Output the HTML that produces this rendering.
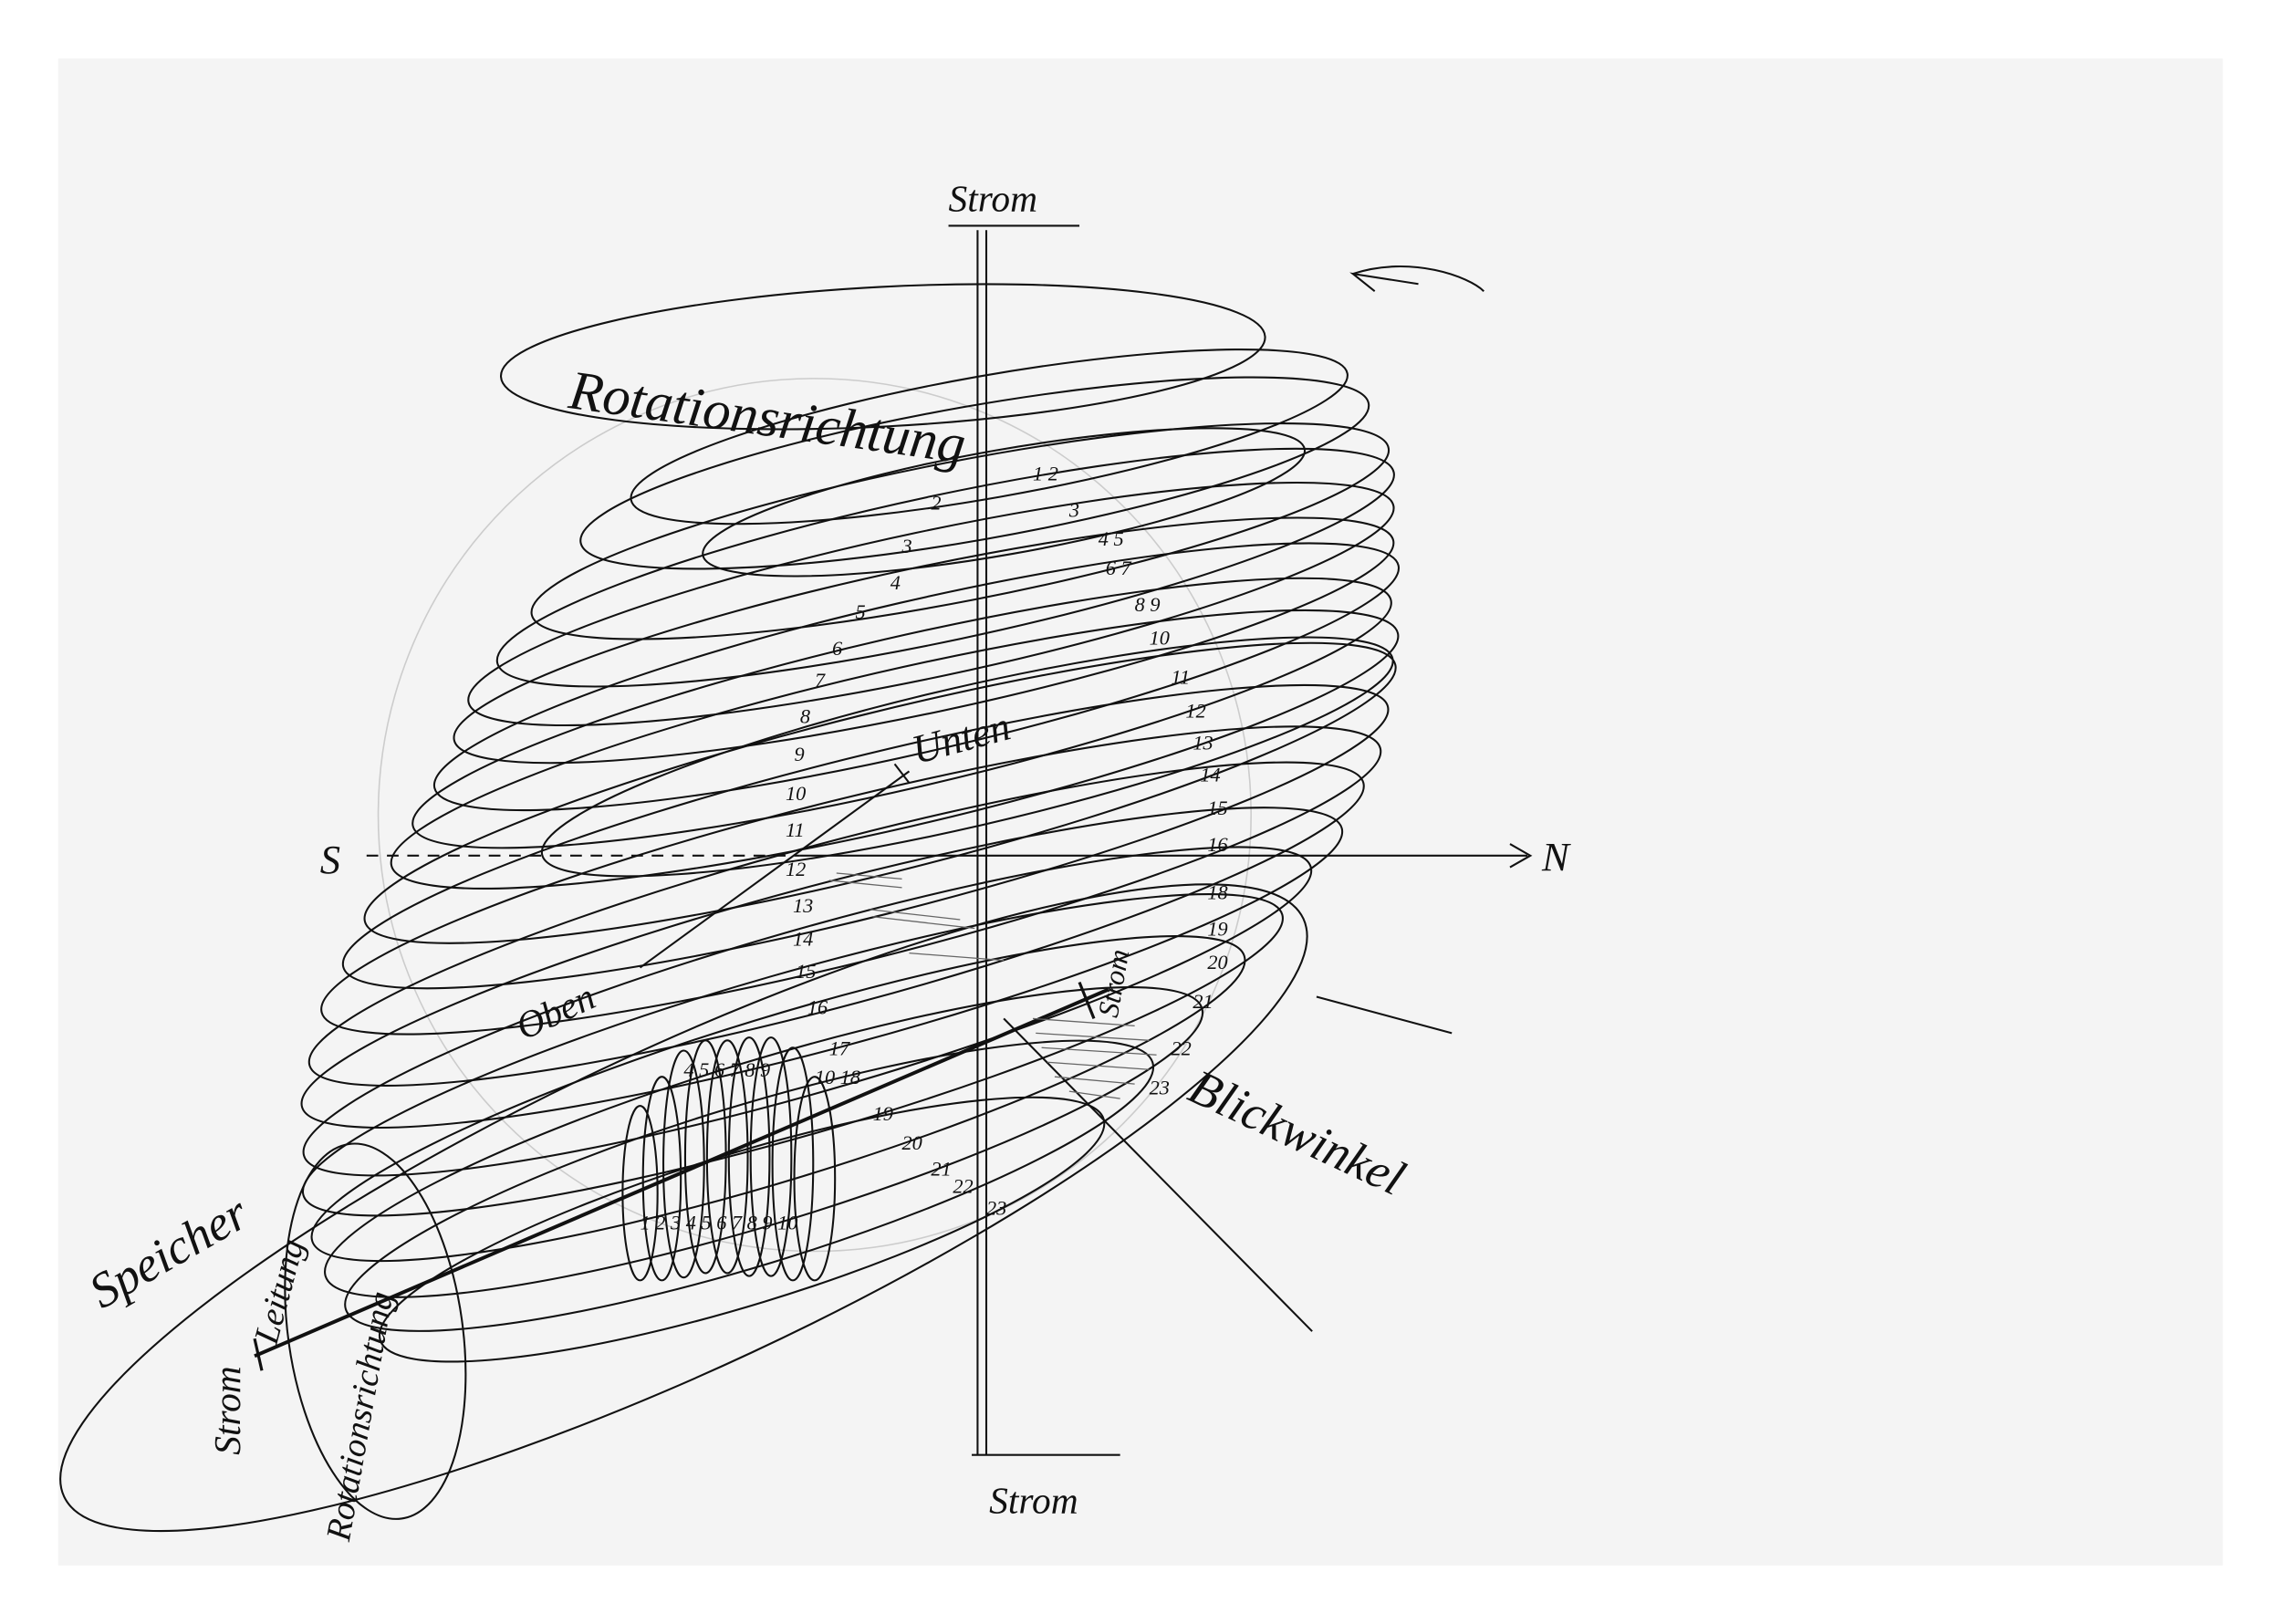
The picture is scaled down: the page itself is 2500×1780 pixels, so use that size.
<!DOCTYPE html>
<html><head><meta charset="utf-8"><style>
html,body{margin:0;padding:0;background:#fff;}
svg{display:block}
text{font-family:"Liberation Serif",serif;font-style:italic;fill:#111}
</style></head><body>
<svg width="2500" height="1780" viewBox="0 0 1568 1116" xmlns="http://www.w3.org/2000/svg">
<rect x="0" y="0" width="1568" height="1116" fill="#fff"/>
<rect x="40" y="40" width="1488" height="1036" fill="#f4f4f4"/>
<g fill="none" stroke="#111" stroke-width="1.3">
<ellipse cx="560" cy="560" rx="300" ry="300" stroke="#ccc" stroke-width="1"/>
<ellipse cx="607" cy="245" rx="263" ry="48" transform="rotate(-3 607 245)"/>
<path d="M975 195 L930 188 L945 200" />
<path d="M930 188 C 970 175 1010 190 1020 200"/>
<g>
<ellipse cx="680" cy="300" rx="250" ry="42" transform="rotate(-10 680 300)"/>
<ellipse cx="670" cy="325" rx="275" ry="46" transform="rotate(-10 670 325)"/>
<ellipse cx="690" cy="345" rx="210" ry="36" transform="rotate(-10 690 345)"/>
<ellipse cx="660" cy="365" rx="300" ry="48" transform="rotate(-11 660 365)"/>
<ellipse cx="650" cy="390" rx="315" ry="50" transform="rotate(-12 650 390)"/>
<ellipse cx="640" cy="415" rx="325" ry="50" transform="rotate(-12 640 415)"/>
<ellipse cx="635" cy="440" rx="330" ry="50" transform="rotate(-12 635 440)"/>
<ellipse cx="630" cy="465" rx="340" ry="52" transform="rotate(-13 630 465)"/>
<ellipse cx="620" cy="490" rx="345" ry="52" transform="rotate(-13 620 490)"/>
<ellipse cx="615" cy="515" rx="355" ry="54" transform="rotate(-13 615 515)"/>
<ellipse cx="665" cy="520" rx="300" ry="48" transform="rotate(-13 665 520)"/>
<ellipse cx="605" cy="545" rx="365" ry="55" transform="rotate(-14 605 545)"/>
<ellipse cx="595" cy="575" rx="370" ry="55" transform="rotate(-14 595 575)"/>
<ellipse cx="585" cy="605" rx="375" ry="56" transform="rotate(-14 585 605)"/>
<ellipse cx="575" cy="635" rx="375" ry="56" transform="rotate(-15 575 635)"/>
<ellipse cx="565" cy="665" rx="370" ry="56" transform="rotate(-15 565 665)"/>
<ellipse cx="555" cy="695" rx="360" ry="56" transform="rotate(-16 555 695)"/>
<ellipse cx="545" cy="725" rx="350" ry="56" transform="rotate(-16 545 725)"/>
<ellipse cx="535" cy="755" rx="335" ry="56" transform="rotate(-17 535 755)"/>
<ellipse cx="525" cy="785" rx="315" ry="56" transform="rotate(-17 525 785)"/>
<ellipse cx="515" cy="815" rx="290" ry="55" transform="rotate(-17 515 815)"/>
<ellipse cx="510" cy="845" rx="260" ry="52" transform="rotate(-17 510 845)"/>
</g>
<ellipse cx="470" cy="830" rx="470" ry="110" transform="rotate(-25 470 830)"/>
<ellipse cx="258" cy="915" rx="60" ry="130" transform="rotate(-8 258 915)"/>
<ellipse cx="440" cy="820" rx="12" ry="60"/>
<ellipse cx="455" cy="810" rx="13" ry="70"/>
<ellipse cx="470" cy="800" rx="14" ry="78"/>
<ellipse cx="485" cy="795" rx="14" ry="80"/>
<ellipse cx="500" cy="795" rx="14" ry="80"/>
<ellipse cx="515" cy="795" rx="14" ry="82"/>
<ellipse cx="530" cy="795" rx="14" ry="82"/>
<ellipse cx="545" cy="800" rx="14" ry="80"/>
<ellipse cx="560" cy="810" rx="14" ry="70"/>
<line x1="672" y1="158" x2="672" y2="1000"/>
<line x1="678" y1="158" x2="678" y2="1000"/>
<line x1="652" y1="155" x2="742" y2="155"/>
<line x1="668" y1="1000" x2="770" y2="1000"/>
<line x1="252" y1="588" x2="550" y2="588" stroke-dasharray="8 6"/>
<line x1="550" y1="588" x2="1050" y2="588"/>
<path d="M1038 580 L1052 588 L1038 596"/>
<line x1="690" y1="700" x2="902" y2="915"/>
<line x1="905" y1="685" x2="998" y2="710"/>
<line x1="175" y1="932" x2="762" y2="680" stroke-width="2.5"/>
<line x1="742" y1="675" x2="752" y2="700" stroke-width="2"/>
<line x1="175" y1="920" x2="180" y2="942" stroke-width="2"/>
<line x1="440" y1="665" x2="625" y2="530"/>
<line x1="615" y1="525" x2="625" y2="538"/>
<g stroke="#666" stroke-width="0.8">
<line x1="570" y1="605" x2="620" y2="610"/><line x1="575" y1="600" x2="620" y2="604"/>
<line x1="598" y1="625" x2="660" y2="632"/><line x1="600" y1="630" x2="670" y2="638"/>
<line x1="625" y1="655" x2="690" y2="660"/>
<line x1="710" y1="700" x2="780" y2="705"/><line x1="712" y1="710" x2="790" y2="715"/>
<line x1="716" y1="720" x2="795" y2="725"/><line x1="720" y1="730" x2="790" y2="735"/>
<line x1="725" y1="740" x2="780" y2="745"/><line x1="735" y1="750" x2="770" y2="755"/>
</g>
</g>
<text x="652" y="145" font-size="26">Strom</text>
<text x="680" y="1040" font-size="26">Strom</text>
<text x="390" y="280" font-size="38" transform="rotate(8 390 280)">Rotationsrichtung</text>
<text x="630" y="525" font-size="28" transform="rotate(-15 630 525)">Unten</text>
<text x="360" y="715" font-size="26" transform="rotate(-25 360 715)">Oben</text>
<text x="220" y="600" font-size="28">S</text>
<text x="1060" y="598" font-size="28">N</text>
<text x="815" y="755" font-size="34" transform="rotate(25 815 755)">Blickwinkel</text>
<text x="70" y="900" font-size="34" transform="rotate(-30 70 900)">Speicher</text>
<text x="165" y="1000" font-size="26" transform="rotate(-90 165 1000)">Strom</text>
<text x="190" y="925" font-size="24" transform="rotate(-75 190 925)">Leitung</text>
<text x="240" y="1060" font-size="24" transform="rotate(-80 240 1060)">Rotationsrichtung</text>
<text x="768" y="700" font-size="20" transform="rotate(-80 768 700)">Strom</text>
<g font-size="14">
<text x="640" y="350">2</text><text x="620" y="380">3</text><text x="612" y="405">4</text>
<text x="588" y="425">5</text><text x="572" y="450">6</text><text x="560" y="472">7</text>
<text x="550" y="497">8</text><text x="546" y="523">9</text><text x="540" y="550">10</text>
<text x="540" y="575">11</text><text x="540" y="602">12</text><text x="545" y="627">13</text>
<text x="545" y="650">14</text><text x="547" y="672">15</text><text x="555" y="697">16</text>
<text x="710" y="330">1 2</text><text x="735" y="355">3</text><text x="755" y="375">4 5</text>
<text x="760" y="395">6 7</text><text x="780" y="420">8 9</text><text x="790" y="443">10</text>
<text x="805" y="470">11</text><text x="815" y="493">12</text><text x="820" y="515">13</text>
<text x="825" y="537">14</text><text x="830" y="560">15</text><text x="830" y="585">16</text>
<text x="830" y="618">18</text><text x="830" y="643">19</text><text x="830" y="666">20</text>
<text x="820" y="693">21</text><text x="805" y="725">22</text><text x="790" y="752">23</text>
<text x="600" y="770">19</text><text x="620" y="790">20</text><text x="640" y="808">21</text>
<text x="655" y="820">22</text><text x="678" y="835">23</text>
<text x="440" y="845">1 2 3 4 5 6 7 8 9 10</text>
<text x="470" y="740">4 5 6 7 8 9</text><text x="560" y="745">10 18</text><text x="570" y="725">17</text>
</g>
</svg>
</body></html>
